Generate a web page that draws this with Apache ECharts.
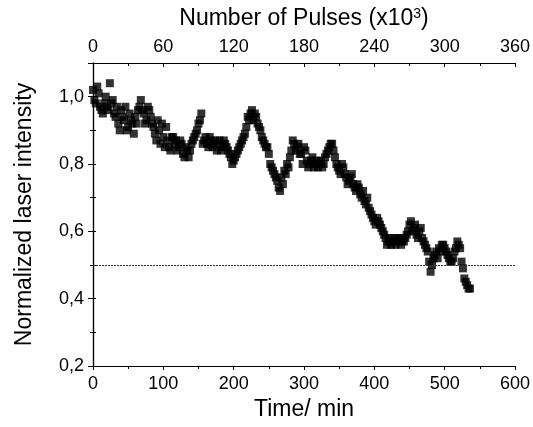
<!DOCTYPE html>
<html>
<head>
<meta charset="utf-8">
<script src="https://cdn.jsdelivr.net/npm/echarts@6/dist/echarts.min.js"></script>
<style>html,body{margin:0;padding:0;background:#fff}#c{width:533px;height:427px}</style>
</head>
<body>
<div id="c"></div>
<script>
const timeA = [0,4,8,12,16,20,24,28,32,36,40,44,48,52,56,60,64,68,72,76,80,84,88,92,96,100,104,108,112,116,120,124,128,132,136,140,144,148,152,156,160,164,168,172,176,180,184,188,192,196,200,204,208,212,216,220,224,228,232,236,240,244,248,252,256,260,264,268,272,276,280,284,288,292,296,300,304,308,312,316,320,324,328,332,336,340,344,348,352,356,360,364,368,372,376,380,384,388,392,396,400,404,408,412,416,420,424,428,432,436,440,444,448,452,456,460,464,468,472,476,480,484,488,492,496,500,504,508,512,516,520,524,528,532,536];
const intensityA = [1.02,0.98,1.01,0.96,0.98,0.97,1.04,0.99,0.94,0.92,0.96,0.93,0.90,0.95,0.92,0.94,0.96,0.99,0.95,0.93,0.96,0.92,0.89,0.93,0.86,0.88,0.91,0.85,0.88,0.86,0.84,0.87,0.83,0.85,0.82,0.86,0.88,0.90,0.93,0.86,0.88,0.85,0.87,0.86,0.84,0.87,0.85,0.86,0.84,0.82,0.81,0.83,0.85,0.87,0.89,0.94,0.95,0.93,0.94,0.91,0.88,0.86,0.85,0.80,0.78,0.76,0.73,0.76,0.78,0.80,0.82,0.87,0.84,0.86,0.83,0.85,0.81,0.80,0.82,0.80,0.79,0.81,0.80,0.83,0.85,0.86,0.82,0.79,0.77,0.79,0.76,0.75,0.77,0.73,0.74,0.71,0.72,0.68,0.67,0.65,0.63,0.64,0.62,0.60,0.58,0.57,0.56,0.58,0.57,0.58,0.57,0.58,0.60,0.63,0.61,0.59,0.60,0.58,0.56,0.54,0.48,0.52,0.54,0.55,0.56,0.55,0.53,0.51,0.52,0.55,0.56,0.51,0.46,0.44,0.43];
const timeB = [2,6,10,14,18,22,26,30,34,38,42,46,50,54,58,62,66,70,74,78,82,86,90,94,98,102,106,110,114,118,122,126,130,134,138,142,146,150,154,158,162,166,170,174,178,182,186,190,194,198,202,206,210,214,218,222,226,230,234,238,242,246,250,254,258,262,266,270,274,278,282,286,290,294,298,302,306,310,314,318,322,326,330,334,338,342,346,350,354,358,362,366,370,374,378,382,386,390,394,398,402,406,410,414,418,422,426,430,434,438,442,446,450,454,458,462,466,470,474,478,482,486,490,494,498,502,506,510,514,518,522,526,530,534];
const intensityB = [0.99,1.03,0.97,0.95,1.00,0.96,0.98,0.95,0.97,0.90,0.94,0.97,0.91,0.93,0.89,0.92,0.97,0.96,0.92,0.97,0.94,0.91,0.87,0.90,0.92,0.85,0.87,0.84,0.88,0.87,0.85,0.86,0.82,0.84,0.84,0.87,0.89,0.92,0.95,0.87,0.86,0.88,0.85,0.87,0.86,0.84,0.87,0.85,0.83,0.80,0.82,0.84,0.86,0.88,0.91,0.93,0.96,0.95,0.92,0.90,0.87,0.85,0.83,0.79,0.77,0.75,0.72,0.74,0.77,0.79,0.84,0.86,0.85,0.83,0.80,0.84,0.79,0.81,0.79,0.81,0.80,0.79,0.82,0.84,0.86,0.84,0.80,0.78,0.80,0.77,0.74,0.76,0.74,0.72,0.73,0.70,0.69,0.70,0.66,0.64,0.62,0.63,0.61,0.59,0.56,0.58,0.57,0.56,0.58,0.56,0.57,0.59,0.62,0.60,0.62,0.58,0.61,0.57,0.55,0.51,0.50,0.53,0.52,0.54,0.56,0.54,0.52,0.51,0.54,0.57,0.55,0.49,0.45,0.43];
const timeTicks = [0,100,200,300,400,500,600];
const pulseTicks = [0,60,120,180,240,300,360];
const yTicks = [0.2,0.4,0.6,0.8,1.0];
const refLevel = 0.5;

const FONT = "'Liberation Sans', Arial, sans-serif";
const chart = echarts.init(document.getElementById('c'), null, {renderer:'canvas'});
const data = timeA.map((t,i)=>[t,intensityA[i]]).concat(timeB.map((t,i)=>[t,intensityB[i]]));
const axisLine = {show:true, lineStyle:{color:'#000', width:1.2}};
chart.setOption({
  animation:false,
  backgroundColor:'#fff',
  grid:{left:93, right:18, top:63, bottom:61, containLabel:false},
  xAxis:[
    {type:'value', position:'bottom', min:timeTicks[0], max:timeTicks[timeTicks.length-1], interval:100,
     name:'Time/ min', nameLocation:'middle', nameGap:32,
     nameTextStyle:{fontFamily:FONT, fontSize:23, color:'#000'},
     axisLine:axisLine, axisTick:{show:true, length:4, lineStyle:{color:'#000'}},
     minorTick:{show:true, splitNumber:2, length:3, lineStyle:{color:'#000'}},
     splitLine:{show:false},
     axisLabel:{fontFamily:FONT, fontSize:18, color:'#000', margin:9}},
    {type:'value', position:'top', min:pulseTicks[0], max:pulseTicks[pulseTicks.length-1], interval:60,
     name:'Number of Pulses (x10{s|3})', nameLocation:'middle', nameGap:32,
     nameTextStyle:{fontFamily:FONT, fontSize:23, color:'#000', rich:{s:{fontFamily:FONT, fontSize:14, verticalAlign:'top', padding:[0,0,10,0], color:'#000'}}},
     axisLine:axisLine, axisTick:{show:true, length:4, inside:true, lineStyle:{color:'#000'}},
     minorTick:{show:true, splitNumber:2, length:3, lineStyle:{color:'#000'}},
     splitLine:{show:false},
     axisLabel:{fontFamily:FONT, fontSize:18, color:'#000', margin:7}},
  ],
  yAxis:[
    {type:'value', position:'left', min:0.2, max:1.1, interval:0.2,
     name:'Normalized laser intensity', nameLocation:'middle', nameGap:57,
     nameTextStyle:{fontFamily:FONT, fontSize:23, color:'#000'},
     axisLine:axisLine, axisTick:{show:true, length:5, lineStyle:{color:'#000'}},
     minorTick:{show:true, splitNumber:2, length:3, lineStyle:{color:'#000'}},
     splitLine:{show:false},
     axisLabel:{fontFamily:FONT, fontSize:18, color:'#000', margin:9,
       formatter:v=> yTicks.some(t=>Math.abs(t-v)<1e-6) ? v.toFixed(1).replace('.',',') : ''}},
    {type:'value', position:'right', min:0.2, max:1.1, interval:0.1,
     axisLine:axisLine, axisTick:{show:true, length:3, lineStyle:{color:'#000'}},
     splitLine:{show:false}, axisLabel:{show:false}}
  ],
  series:[{
    type:'scatter', xAxisIndex:0, yAxisIndex:0, data:data,
    symbol:'rect', symbolSize:8, itemStyle:{color:'#000'},
    markLine:{silent:true, symbol:'none', label:{show:false},
      lineStyle:{type:[2,1], color:'#333', width:1},
      data:[{yAxis:refLevel}]}
  }]
});
</script>
</body>
</html>
